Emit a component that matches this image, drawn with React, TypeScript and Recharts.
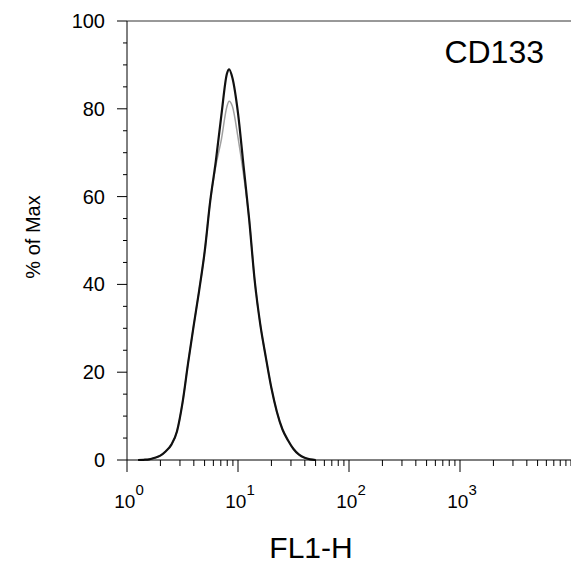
import React from "react";
import { LineChart, Line, XAxis, YAxis, ReferenceLine, Customized } from "recharts";

// log10 of FL1-H channel
const LOG_X = [
  0.1, 0.15, 0.2, 0.25, 0.3, 0.35, 0.4, 0.45, 0.5, 0.55, 0.6, 0.65, 0.7, 0.75, 0.8, 0.85, 0.9, 0.92,
  0.95, 1.0, 1.05, 1.1, 1.15, 1.2, 1.25, 1.3, 1.35, 1.4, 1.45, 1.5, 1.55, 1.6, 1.65, 1.7,
];
// % of Max, stained sample (black)
const CD133 = [
  0, 0.05, 0.15, 0.5, 1.0, 2.0, 3.5, 6.5, 13, 22, 30.5, 38.6, 47.5, 59, 68, 78.5, 88, 89,
  87, 79, 67, 55, 41, 31, 23.5, 16.5, 11, 7, 4.5, 2.5, 1.2, 0.5, 0.15, 0,
];
// % of Max, control (gray)
const CONTROL = [
  0, 0.05, 0.15, 0.5, 1.0, 2.0, 3.5, 6.5, 13, 22, 30.5, 38.6, 47.5, 59, 67, 73, 80.5, 81.7,
  80.5, 73.5, 65, 55, 41, 31, 23.5, 16.5, 11, 7, 4.5, 2.5, 1.2, 0.5, 0.15, 0,
];

const X_DECADES = [0, 1, 2, 3];
const X_TICK_VALUES = [
  1, 2, 3, 4, 5, 6, 7, 8, 9,
  10, 20, 30, 40, 50, 60, 70, 80, 90,
  100, 200, 300, 400, 500, 600, 700, 800, 900,
  1000, 2000, 3000, 4000, 5000, 6000, 7000, 8000, 9000, 10000,
];
const Y_TICKS = [0, 5, 10, 15, 20, 25, 30, 35, 40, 45, 50, 55, 60, 65, 70, 75, 80, 85, 90, 95, 100];
const Y_LABELS = [0, 20, 40, 60, 80, 100];

const FONT = "'Liberation Sans', Arial, sans-serif";

const data = LOG_X.map((x, i) => ({ x, cd133: CD133[i], control: CONTROL[i] }));
const xTicks = X_TICK_VALUES.map((v) => Math.log10(v));

const XTick = (props: any) => {
  const { x, y, payload } = props;
  const v = payload.value as number;
  const major = X_DECADES.some((d) => Math.abs(v - d) < 1e-6);
  return (
    <g>
      <line x1={x} x2={x} y1={y} y2={y + (major ? 12 : 6)} stroke="#000" strokeWidth={1} />
      {major && (
        <text x={x + 2} y={y + 48} textAnchor="middle" fontFamily={FONT} fontSize={19} fill="#000">
          <tspan>10</tspan>
          <tspan dy={-13} fontSize={15}>{Math.round(v)}</tspan>
        </text>
      )}
    </g>
  );
};

const YTick = (props: any) => {
  const { x, y, payload } = props;
  const v = payload.value as number;
  const major = Y_LABELS.includes(v);
  return (
    <g>
      <line x1={x - (major ? 10 : 4)} x2={x} y1={y} y2={y} stroke="#000" strokeWidth={1} />
      {major && (
        <text x={x - 22} y={y} textAnchor="end" dominantBaseline="central" fontFamily={FONT} fontSize={20} fill="#000">
          {v}
        </text>
      )}
    </g>
  );
};

const Titles = () => (
  <g fontFamily={FONT} fill="#000">
    <text x={544} y={63} textAnchor="end" fontSize={32}>CD133</text>
    <text x={311} y={558} textAnchor="middle" fontSize={30}>FL1-H</text>
    <text x={40} y={237} textAnchor="middle" fontSize={20} transform="rotate(-90, 40, 237)">% of Max</text>
  </g>
);

export default function App() {
  return (
    <div style={{ position: "absolute", left: 0, top: 0, background: "#fff" }}>
      <LineChart width={571} height={567} data={data} margin={{ top: 21, right: 0, bottom: 0, left: 0 }}>
        <XAxis
          type="number"
          dataKey="x"
          domain={[0, 4]}
          ticks={xTicks}
          interval={0}
          tick={<XTick />}
          tickLine={false}
          tickSize={0}
          tickMargin={0}
          height={107}
          axisLine={{ stroke: "#000" }}
        />
        <YAxis
          type="number"
          domain={[0, 100]}
          ticks={Y_TICKS}
          interval={0}
          tick={<YTick />}
          tickLine={false}
          tickSize={0}
          tickMargin={0}
          width={127}
          axisLine={{ stroke: "#000" }}
        />
        <ReferenceLine y={100} stroke="#333" strokeWidth={1} />
        <Line
          dataKey="control"
          type="monotone"
          stroke="#a0a0a0"
          strokeWidth={1.5}
          dot={false}
          isAnimationActive={false}
        />
        <Line
          dataKey="cd133"
          type="monotone"
          stroke="#111"
          strokeWidth={2.2}
          dot={false}
          isAnimationActive={false}
        />
        <Customized component={Titles} />
      </LineChart>
    </div>
  );
}
